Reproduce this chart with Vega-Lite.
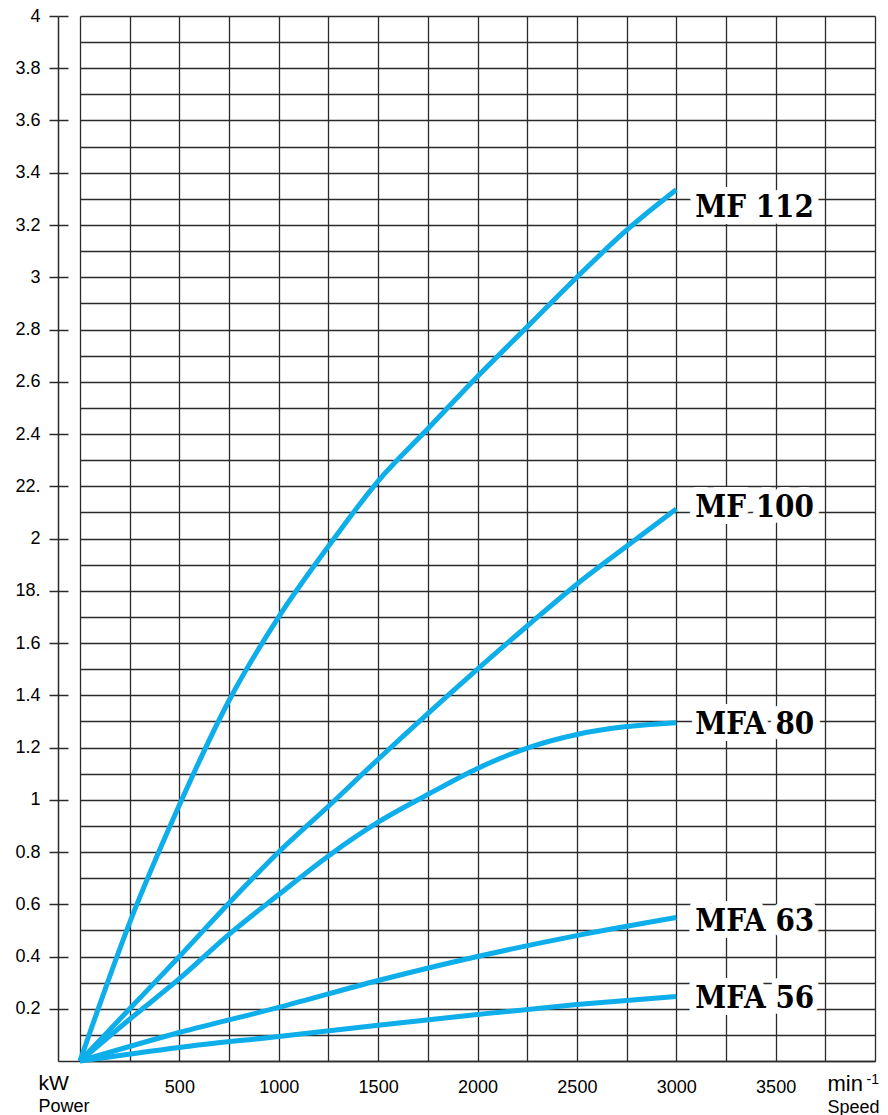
{
  "$schema": "https://vega.github.io/schema/vega-lite/v6.json",
  "width": 795,
  "height": 1045,
  "autosize": {"type": "none"},
  "padding": {"left": 80, "top": 16, "right": 13, "bottom": 54},
  "background": "white",
  "config": {
    "view": {"stroke": null},
    "axis": {"labelFont": "Liberation Sans", "titleFont": "Liberation Sans", "labelColor": "black", "titleColor": "black", "titleFontWeight": "normal"}
  },
  "datasets": {
    "curves": [
      {"series": "MF 112", "speed": 0, "power": 0},
      {"series": "MF 112", "speed": 250, "power": 0.53},
      {"series": "MF 112", "speed": 500, "power": 0.98},
      {"series": "MF 112", "speed": 750, "power": 1.38},
      {"series": "MF 112", "speed": 1000, "power": 1.7},
      {"series": "MF 112", "speed": 1250, "power": 1.97},
      {"series": "MF 112", "speed": 1500, "power": 2.22},
      {"series": "MF 112", "speed": 1750, "power": 2.42},
      {"series": "MF 112", "speed": 2000, "power": 2.62},
      {"series": "MF 112", "speed": 2250, "power": 2.81},
      {"series": "MF 112", "speed": 2500, "power": 3.0},
      {"series": "MF 112", "speed": 2750, "power": 3.18},
      {"series": "MF 112", "speed": 3000, "power": 3.335},
      {"series": "MF 100", "speed": 0, "power": 0},
      {"series": "MF 100", "speed": 250, "power": 0.2},
      {"series": "MF 100", "speed": 500, "power": 0.4},
      {"series": "MF 100", "speed": 750, "power": 0.605},
      {"series": "MF 100", "speed": 1000, "power": 0.8},
      {"series": "MF 100", "speed": 1250, "power": 0.975},
      {"series": "MF 100", "speed": 1500, "power": 1.155},
      {"series": "MF 100", "speed": 1750, "power": 1.33},
      {"series": "MF 100", "speed": 2000, "power": 1.5},
      {"series": "MF 100", "speed": 2250, "power": 1.665},
      {"series": "MF 100", "speed": 2500, "power": 1.825},
      {"series": "MF 100", "speed": 2750, "power": 1.97},
      {"series": "MF 100", "speed": 3000, "power": 2.113},
      {"series": "MFA 80", "speed": 0, "power": 0},
      {"series": "MFA 80", "speed": 250, "power": 0.16},
      {"series": "MFA 80", "speed": 500, "power": 0.315},
      {"series": "MFA 80", "speed": 750, "power": 0.485},
      {"series": "MFA 80", "speed": 1000, "power": 0.637},
      {"series": "MFA 80", "speed": 1250, "power": 0.785},
      {"series": "MFA 80", "speed": 1500, "power": 0.914},
      {"series": "MFA 80", "speed": 1750, "power": 1.02},
      {"series": "MFA 80", "speed": 2000, "power": 1.12},
      {"series": "MFA 80", "speed": 2250, "power": 1.198},
      {"series": "MFA 80", "speed": 2500, "power": 1.25},
      {"series": "MFA 80", "speed": 2750, "power": 1.28},
      {"series": "MFA 80", "speed": 3000, "power": 1.295},
      {"series": "MFA 63", "speed": 0, "power": 0},
      {"series": "MFA 63", "speed": 500, "power": 0.109},
      {"series": "MFA 63", "speed": 1000, "power": 0.205},
      {"series": "MFA 63", "speed": 1500, "power": 0.308},
      {"series": "MFA 63", "speed": 2000, "power": 0.4},
      {"series": "MFA 63", "speed": 2500, "power": 0.48},
      {"series": "MFA 63", "speed": 3000, "power": 0.549},
      {"series": "MFA 56", "speed": 0, "power": 0},
      {"series": "MFA 56", "speed": 500, "power": 0.052},
      {"series": "MFA 56", "speed": 1000, "power": 0.094},
      {"series": "MFA 56", "speed": 1500, "power": 0.137},
      {"series": "MFA 56", "speed": 2000, "power": 0.178},
      {"series": "MFA 56", "speed": 2500, "power": 0.216},
      {"series": "MFA 56", "speed": 3000, "power": 0.247}
    ],
    "labels": [
      {"label": "MF 112", "speed": 3000, "power": 3.265},
      {"label": "MF 100", "speed": 3000, "power": 2.115},
      {"label": "MFA 80", "speed": 3000, "power": 1.287},
      {"label": "MFA 63", "speed": 3000, "power": 0.533},
      {"label": "MFA 56", "speed": 3000, "power": 0.239}
    ]
  },
  "resolve": {"axis": {"x": "independent", "y": "independent"}},
  "layer": [
    {
      "data": {"name": "curves"},
      "mark": {"type": "line", "color": "#0DAEEA", "strokeWidth": 5, "interpolate": "monotone"},
      "encoding": {
        "x": {
          "field": "speed", "type": "quantitative",
          "scale": {"domain": [0, 4000], "nice": false, "zero": false},
          "axis": {
            "orient": "bottom",
            "values": [0, 250, 500, 750, 1000, 1250, 1500, 1750, 2000, 2250, 2500, 2750, 3000, 3250, 3500, 3750, 4000],
            "grid": true, "gridColor": "#2a2a2a", "gridWidth": 1.3, "gridOpacity": 1,
            "labels": false, "ticks": false,
            "domain": true, "domainColor": "#2a2a2a", "domainWidth": 1.5,
            "title": "Speed", "titleFontSize": 18, "titleAlign": "left", "titleBaseline": "middle",
            "titleX": 747, "titleY": 46
          }
        },
        "y": {
          "field": "power", "type": "quantitative",
          "scale": {"domain": [0, 4], "nice": false, "zero": false},
          "axis": {
            "orient": "left",
            "values": [0, 0.1, 0.2, 0.3, 0.4, 0.5, 0.6, 0.7, 0.8, 0.9, 1, 1.1, 1.2, 1.3, 1.4, 1.5, 1.6, 1.7, 1.8, 1.9, 2, 2.1, 2.2, 2.3, 2.4, 2.5, 2.6, 2.7, 2.8, 2.9, 3, 3.1, 3.2, 3.3, 3.4, 3.5, 3.6, 3.7, 3.8, 3.9, 4],
            "grid": true, "gridColor": "#2a2a2a", "gridWidth": 1.3, "gridOpacity": 1,
            "labels": false, "ticks": false, "domain": false,
            "title": "Power", "titleFontSize": 18, "titleAngle": 0, "titleAlign": "left", "titleBaseline": "middle",
            "titleX": -42, "titleY": 1090
          }
        },
        "detail": {"field": "series", "type": "nominal"}
      }
    },
    {
      "data": {"name": "labels"},
      "mark": {"type": "text", "font": "DejaVu Serif Condensed", "fontWeight": "bold", "fontSize": 31, "align": "left", "baseline": "middle", "dx": 19, "fill": "white", "stroke": "white", "strokeWidth": 14, "strokeJoin": "round"},
      "encoding": {
        "x": {
          "field": "speed", "type": "quantitative",
          "scale": {"domain": [0, 4000], "nice": false, "zero": false},
          "axis": {
            "orient": "bottom",
            "values": [500, 1000, 1500, 2000, 2500, 3000, 3500],
            "format": "d",
            "grid": false, "ticks": false, "domain": false,
            "labelFontSize": 18, "labelPadding": 17,
            "title": "min", "titleFontSize": 22, "titleAlign": "left", "titleBaseline": "middle",
            "titleX": 747, "titleY": 22
          }
        },
        "y": {
          "field": "power", "type": "quantitative",
          "scale": {"domain": [0, 4], "nice": false, "zero": false},
          "axis": {
            "orient": "left", "offset": 22,
            "values": [0.2, 0.4, 0.6, 0.8, 1, 1.2, 1.4, 1.6, 1.8, 2, 2.2, 2.4, 2.6, 2.8, 3, 3.2, 3.4, 3.6, 3.8, 4],
            "grid": false,
            "domain": true, "domainColor": "#2a2a2a", "domainWidth": 1.5,
            "ticks": true, "tickSize": 9, "tickColor": "#2a2a2a", "tickWidth": 1.5,
            "labelFontSize": 18, "labelPadding": 9,
            "labelExpr": "datum.value == 2.2 ? '22.' : datum.value == 1.8 ? '18.' : format(datum.value, '~g')",
            "title": "kW", "titleFontSize": 21, "titleAngle": 0, "titleAlign": "left", "titleBaseline": "middle",
            "titleX": -20, "titleY": 1067
          }
        },
        "text": {"field": "label", "type": "nominal"}
      }
    },
    {
      "data": {"name": "labels"},
      "mark": {"type": "text", "font": "DejaVu Serif Condensed", "fontWeight": "bold", "fontSize": 31, "align": "left", "baseline": "middle", "dx": 19, "fill": "black"},
      "encoding": {
        "x": {
          "field": "speed", "type": "quantitative",
          "scale": {"domain": [0, 4000], "nice": false, "zero": false},
          "axis": {
            "orient": "bottom", "grid": false, "ticks": false, "domain": false, "labels": false,
            "title": "-1", "titleFontSize": 14, "titleAlign": "left", "titleBaseline": "middle",
            "titleX": 786, "titleY": 18
          }
        },
        "y": {
          "field": "power", "type": "quantitative",
          "scale": {"domain": [0, 4], "nice": false, "zero": false},
          "axis": {
            "orient": "left", "offset": 22,
            "values": [0, 0.2, 0.4, 0.6, 0.8, 1, 1.2, 1.4, 1.6, 1.8, 2, 2.2, 2.4, 2.6, 2.8, 3, 3.2, 3.4, 3.6, 3.8, 4],
            "grid": false, "domain": false, "labels": false,
            "ticks": true, "tickColor": "#2a2a2a", "tickWidth": 1.5,
            "tickSize": {"condition": {"test": "datum.value == 0", "value": -22}, "value": -10},
            "title": null
          }
        },
        "text": {"field": "label", "type": "nominal"}
      }
    }
  ]
}
